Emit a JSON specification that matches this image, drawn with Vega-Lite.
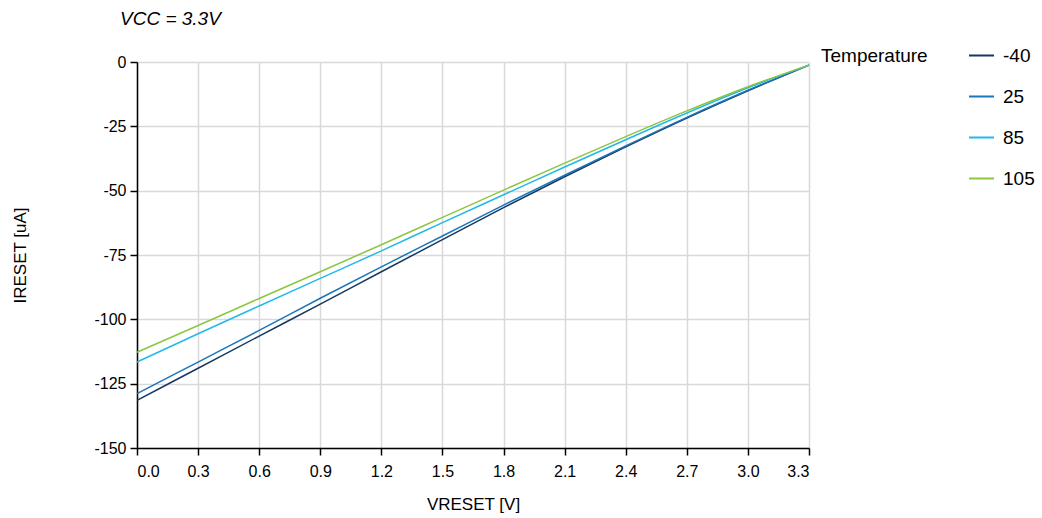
{
  "$schema": "https://vega.github.io/schema/vega-lite/v6.json",
  "autosize": "none",
  "width": 672,
  "height": 386,
  "padding": {"left": 137, "top": 62, "right": 233, "bottom": 70},
  "background": "white",
  "config": {
    "font": "Liberation Sans",
    "view": {"stroke": null}
  },
  "title": {
    "text": "VCC = 3.3V",
    "anchor": "start",
    "frame": "group",
    "dx": -17,
    "offset": 13,
    "fontSize": 19,
    "fontStyle": "italic",
    "fontWeight": "normal",
    "color": "#000000",
    "font": "Liberation Sans"
  },
  "data": {
    "values": [
      {"v": 0.0, "i": -131.5, "t": "-40"},
      {"v": 0.3, "i": -119.0, "t": "-40"},
      {"v": 0.6, "i": -106.5, "t": "-40"},
      {"v": 0.9, "i": -94.1, "t": "-40"},
      {"v": 1.2, "i": -81.5, "t": "-40"},
      {"v": 1.5, "i": -69.0, "t": "-40"},
      {"v": 1.8, "i": -56.6, "t": "-40"},
      {"v": 2.1, "i": -44.6, "t": "-40"},
      {"v": 2.4, "i": -33.0, "t": "-40"},
      {"v": 2.7, "i": -21.8, "t": "-40"},
      {"v": 3.0, "i": -11.2, "t": "-40"},
      {"v": 3.3, "i": -1.2, "t": "-40"},
      {"v": 0.0, "i": -128.9, "t": "25"},
      {"v": 0.3, "i": -116.6, "t": "25"},
      {"v": 0.6, "i": -104.3, "t": "25"},
      {"v": 0.9, "i": -91.8, "t": "25"},
      {"v": 1.2, "i": -79.6, "t": "25"},
      {"v": 1.5, "i": -67.6, "t": "25"},
      {"v": 1.8, "i": -55.6, "t": "25"},
      {"v": 2.1, "i": -44.0, "t": "25"},
      {"v": 2.4, "i": -32.6, "t": "25"},
      {"v": 2.7, "i": -21.5, "t": "25"},
      {"v": 3.0, "i": -11.0, "t": "25"},
      {"v": 3.3, "i": -1.2, "t": "25"},
      {"v": 0.0, "i": -116.6, "t": "85"},
      {"v": 0.3, "i": -105.6, "t": "85"},
      {"v": 0.6, "i": -94.8, "t": "85"},
      {"v": 0.9, "i": -84.1, "t": "85"},
      {"v": 1.2, "i": -73.4, "t": "85"},
      {"v": 1.5, "i": -62.4, "t": "85"},
      {"v": 1.8, "i": -51.6, "t": "85"},
      {"v": 2.1, "i": -40.8, "t": "85"},
      {"v": 2.4, "i": -30.2, "t": "85"},
      {"v": 2.7, "i": -19.8, "t": "85"},
      {"v": 3.0, "i": -10.0, "t": "85"},
      {"v": 3.3, "i": -1.2, "t": "85"},
      {"v": 0.0, "i": -112.8, "t": "105"},
      {"v": 0.3, "i": -102.4, "t": "105"},
      {"v": 0.6, "i": -91.9, "t": "105"},
      {"v": 0.9, "i": -81.5, "t": "105"},
      {"v": 1.2, "i": -71.0, "t": "105"},
      {"v": 1.5, "i": -60.4, "t": "105"},
      {"v": 1.8, "i": -49.8, "t": "105"},
      {"v": 2.1, "i": -39.3, "t": "105"},
      {"v": 2.4, "i": -29.0, "t": "105"},
      {"v": 2.7, "i": -19.0, "t": "105"},
      {"v": 3.0, "i": -9.6, "t": "105"},
      {"v": 3.3, "i": -1.2, "t": "105"}
    ]
  },
  "mark": {"type": "line", "strokeWidth": 1.5, "interpolate": "monotone"},
  "encoding": {
    "x": {
      "field": "v",
      "type": "quantitative",
      "scale": {"domain": [0, 3.3], "nice": false},
      "axis": {
        "title": "VRESET [V]",
        "values": [0, 0.3, 0.6, 0.9, 1.2, 1.5, 1.8, 2.1, 2.4, 2.7, 3.0, 3.3],
        "format": ".1f",
        "labelFontSize": 16,
        "labelColor": "#000000",
        "labelPadding": 8,
        "titleFontSize": 17,
        "titleFontWeight": "normal",
        "titleColor": "#000000",
        "titlePadding": 17,
        "domainColor": "#000000",
        "domainWidth": 1.5,
        "tickColor": "#000000",
        "tickSize": 7,
        "tickWidth": 1.5,
        "gridColor": "#d9d9d9",
        "gridWidth": 1.5
      }
    },
    "y": {
      "field": "i",
      "type": "quantitative",
      "scale": {"domain": [-150, 0], "nice": false},
      "axis": {
        "title": "IRESET [uA]",
        "values": [-150, -125, -100, -75, -50, -25, 0],
        "labelExpr": "toString(datum.value)",
        "labelFontSize": 16,
        "labelColor": "#000000",
        "labelPadding": 4,
        "titleFontSize": 17,
        "titleFontWeight": "normal",
        "titleColor": "#000000",
        "titlePadding": 64,
        "domainColor": "#000000",
        "domainWidth": 1.5,
        "tickColor": "#000000",
        "tickSize": 7,
        "tickWidth": 1.5,
        "gridColor": "#d9d9d9",
        "gridWidth": 1.5
      }
    },
    "color": {
      "field": "t",
      "type": "nominal",
      "sort": ["-40", "25", "85", "105"],
      "scale": {
        "domain": ["-40", "25", "85", "105"],
        "range": ["#17375e", "#1a75bb", "#21b8ea", "#8cc63f"]
      },
      "legend": {
        "title": "Temperature",
        "orient": "none",
        "legendX": 684,
        "legendY": -20,
        "direction": "vertical",
        "titleOrient": "left",
        "titleAnchor": "start",
        "titleFontSize": 19,
        "titleFontWeight": "normal",
        "titleColor": "#000000",
        "titlePadding": 40,
        "titleBaseline": "line-top",
        "titleLineHeight": 29,
        "labelFontSize": 19,
        "labelColor": "#000000",
        "labelOffset": 8,
        "symbolType": "stroke",
        "symbolSize": 625,
        "symbolStrokeWidth": 2,
        "rowPadding": 17
      }
    }
  }
}
